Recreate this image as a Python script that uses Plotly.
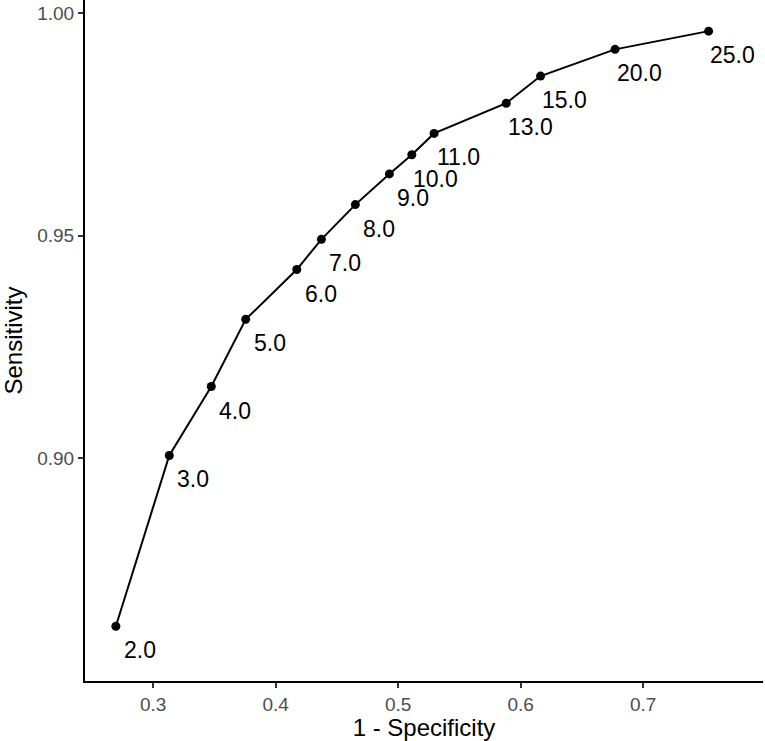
import plotly.graph_objects as go

WHITE = "#ffffff"
BLACK = "#000000"
TICKGRAY = "#4d4d4d"
FONT = "Liberation Sans, Arial, sans-serif"

# cutoffs and the ROC coordinates
CUTOFFS = [2, 3, 4, 5, 6, 7, 8, 9, 10, 11, 13, 15, 20, 25]
ONE_MINUS_SPEC = [0.2695, 0.3131, 0.3474, 0.3755, 0.4172, 0.4373, 0.4650,
                  0.4928, 0.5111, 0.5293, 0.5882, 0.6162, 0.6770, 0.7534]
SENSITIVITY = [0.8622, 0.9006, 0.9161, 0.9312, 0.9424, 0.9492, 0.9570,
               0.9639, 0.9682, 0.9730, 0.9798, 0.9859, 0.9919, 0.9960]

X_TICKS = [0.3, 0.4, 0.5, 0.6, 0.7]
Y_TICKS = [0.90, 0.95, 1.00]

fig = go.Figure()

fig.add_trace(
    go.Scatter(
        x=ONE_MINUS_SPEC, y=SENSITIVITY, mode="lines+markers",
        line=dict(color=BLACK, width=2),
        marker=dict(color=BLACK, size=9),
        showlegend=False, hoverinfo="skip",
    )
)

# labels nudged down/right like geom_text(nudge_x, nudge_y)
for c, x, y in zip(CUTOFFS, ONE_MINUS_SPEC, SENSITIVITY):
    fig.add_annotation(
        x=x, y=y, text=f"{c:.1f}", showarrow=False,
        xshift=24, yshift=-24,
        font=dict(family=FONT, size=23, color=BLACK),
    )

axis_common = dict(
    showgrid=False, zeroline=False, showline=True, linecolor=BLACK, linewidth=2,
    ticks="outside", ticklen=5, tickwidth=1.5, tickcolor="#333333",
    tickfont=dict(family=FONT, size=19, color=TICKGRAY), mirror=False,
)

fig.update_layout(
    width=765, height=741,
    plot_bgcolor=WHITE, paper_bgcolor=WHITE,
    margin=dict(l=85, r=2, t=0, b=60),
    xaxis=dict(
        range=[0.2443, 0.7978], tickvals=X_TICKS, tickformat=".1f",
        title=dict(text="1 - Specificity", font=dict(family=FONT, size=24, color=BLACK), standoff=2),
        **axis_common,
    ),
    yaxis=dict(
        range=[0.8499, 1.003], tickvals=Y_TICKS, tickformat=".2f",
        title=dict(text="Sensitivity", font=dict(family=FONT, size=24, color=BLACK), standoff=10),
        **axis_common,
    ),
)

# drop the default page margin so the 765x741 figure sits flush in the window
fig.write_html(
    "out.html",
    config={"displayModeBar": False},
    post_script="document.body.style.margin='0';document.body.style.overflow='hidden';",
)
